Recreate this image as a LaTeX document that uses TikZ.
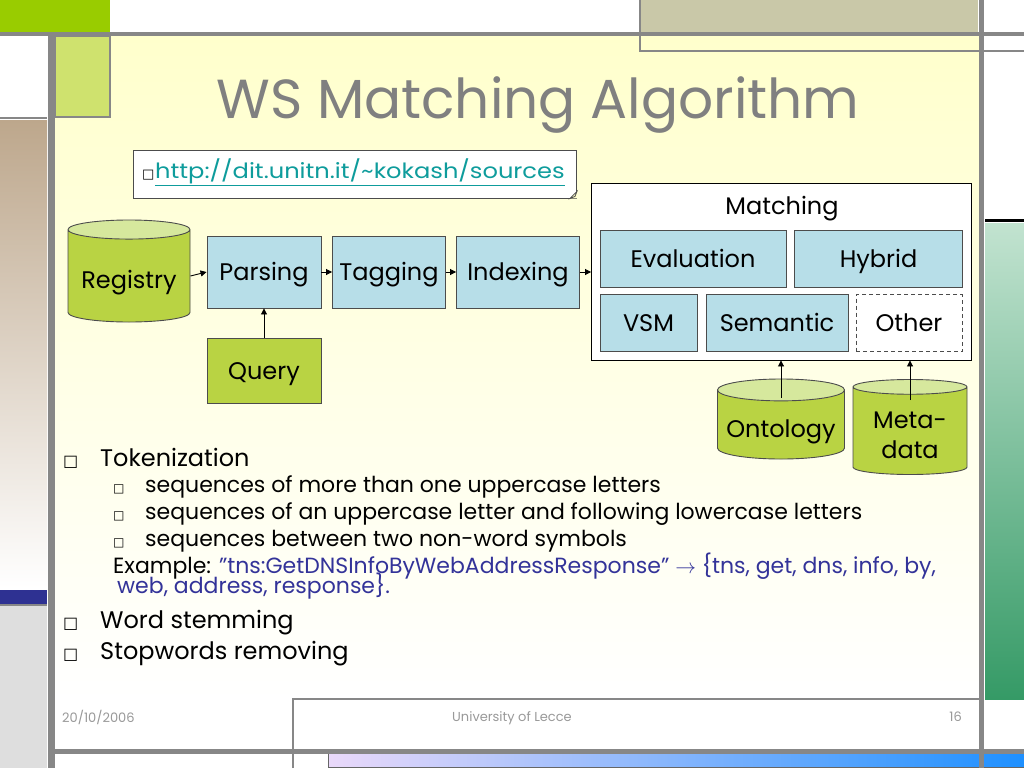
\documentclass[tikz,border=0pt]{standalone}
\usepackage{fontspec}
\setmainfont{Poppins}
\newfontfamily\symfont{DejaVu Sans}
\newfontfamily\widefont[FakeStretch=1.15]{Poppins}
\usetikzlibrary{shapes.geometric,arrows.meta,positioning}

\definecolor{framegray}{HTML}{878787}
\definecolor{leafgreen}{HTML}{99CC00}
\definecolor{palegreen}{HTML}{CFE26E}
\definecolor{khaki}{HTML}{C9C8A8}
\definecolor{sand}{HTML}{BDA78C}
\definecolor{inkblue}{HTML}{2E3192}
\definecolor{cream}{HTML}{FFFFCC}
\definecolor{stageblue}{HTML}{B7DEE8}
\definecolor{storegreen}{HTML}{B9D343}
\definecolor{storetop}{HTML}{D6E89D}
\definecolor{linkteal}{HTML}{0E9C9C}
\definecolor{exampleblue}{HTML}{333399}
\definecolor{titlegray}{HTML}{808080}
\definecolor{mint}{HTML}{C2E3D0}
\definecolor{seagreen}{HTML}{359A66}
\definecolor{lavender}{HTML}{EAD9FA}
\definecolor{skyblue}{HTML}{1E90FF}

\newcommand\fsz[1]{\fontsize{#1}{#1}\selectfont}

\tikzset{
  stage/.style={draw=black!70, fill=stageblue, line width=0.9pt, inner sep=0pt,
    minimum width=#1, minimum height=72pt, text height=17pt, text depth=0pt, font=\fsz{24pt}},
  store/.style={cylinder, shape border rotate=90, aspect=0.2, draw=black!70, line width=0.9pt,
    cylinder uses custom fill, cylinder body fill=storegreen, cylinder end fill=storetop,
    inner sep=0pt, align=center, anchor=shape center, text depth=0pt,
    font=\fontsize{24pt}{30pt}\selectfont},
  flow/.style={-{Triangle[length=6pt,width=6pt]}, line width=0.9pt},
  bullet/.style={anchor=base west, inner sep=0pt},
  frameline/.style={framegray, line width=#1},
}

\begin{document}
\begin{tikzpicture}[x=1pt, y=-1pt]
  \useasboundingbox (0,0) rectangle (1024,768);
  % slide background
  \fill[white] (0,0) rectangle (1024,768);
  \shade[top color=cream, bottom color=white] (55,36) rectangle (979,700);
  \shade[top color=sand, bottom color=white] (0,120) rectangle (47,588);
  \fill[inkblue] (0,590) rectangle (47,604);
  \fill[black!13] (0,606) rectangle (47,768);
  \fill[leafgreen] (0,0) rectangle (110,32);
  \filldraw[fill=palegreen, draw=framegray, line width=1.5pt] (55,36) rectangle (110,117);
  \fill[khaki] (640,0) rectangle (978,32);
  \fill[black] (985,219) rectangle (1024,222);
  \shade[top color=mint, bottom color=seagreen] (985,223) rectangle (1024,699);
  \shadedraw[left color=lavender, right color=skyblue, draw=black!60] (328,753) rectangle (1024,767);
  % frame lines
  \draw[frameline=4pt] (0,34) -- (1024,34);
  \draw[frameline=7pt] (51,34) -- (51,768);
  \draw[frameline=5pt] (981.5,0) -- (981.5,768);
  \draw[frameline=5pt] (51,751) -- (1024,751);
  \draw[frameline=1.5pt] (0,118) -- (47,118);
  \draw[frameline=1.5pt] (0,605) -- (47,605);
  \draw[frameline=1.5pt] (640,0) -- (640,51) -- (1024,51);
  \draw[frameline=1.5pt] (293,768) -- (293,699) -- (979,699);

  \node (title) at (538,118) [anchor=base, text=titlegray, font=\fsz{55pt}] {WS Matching Algorithm};

  % link box
  \node (url) at (355,174) [draw=black!70, fill=white, line width=0.9pt, minimum width=443pt, minimum height=48pt] {};
  \fill[cream] ([xshift=-7pt]url.south east) -- (url.south east) -- ([yshift=7pt]url.south east) -- cycle;
  \draw[line width=0.8pt, black!70] ([xshift=-7pt]url.south east) -- ([yshift=7pt]url.south east)
    -- ([xshift=-2pt,yshift=2pt]url.south east) -- cycle;
  \node (urlbox) at (142,178) [bullet, font=\symfont\fsz{13pt}] {□};
  \node (urltext) at (155,178) [bullet, text=linkteal, font=\widefont\fsz{21pt}] {\underline{http://dit.unitn.it/\textasciitilde kokash/sources}};

  % pipeline
  \node (reg) at (129,271) [store, minimum width=122pt, minimum height=102pt, text height=25pt] {Registry};
  \node (pars) at (264,272) [stage=114pt] {Parsing};
  \node (tagg) at (389,272) [stage=113pt] {Tagging};
  \node (indx) at (518,272) [stage=123pt] {Indexing};
  \node (query) at (264,371) [stage=114pt, fill=storegreen, minimum height=65pt] {Query};

  \node (match) at (781.5,271.5) [draw, fill=white, line width=0.9pt, minimum width=380pt, minimum height=177pt] {};
  \node (matchlbl) at (782,214) [anchor=base, font=\fsz{24pt}] {Matching};
  \node (eval) at (693,259) [stage=186pt, minimum height=57pt] {Evaluation};
  \node (hybr) at (878.5,259) [stage=168pt, minimum height=57pt] {Hybrid};
  \node (vsm) at (648.5,323) [stage=97pt, minimum height=57pt] {VSM};
  \node (sema) at (777,323) [stage=142pt, minimum height=57pt] {Semantic};
  \node (othr) at (909,323) [stage=106pt, minimum height=57pt, fill=white, dash pattern=on 4pt off 3pt] {Other};

  \node (onto) at (781,419) [store, minimum width=127pt, minimum height=80pt, text height=25pt] {Ontology};
  \node (meta) at (910,427) [store, minimum width=114pt, minimum height=95pt, text height=55pt] {Meta-\\data};

  \draw[flow] (reg.east) -- (pars.west);
  \draw[flow] (pars) -- (tagg);
  \draw[flow] (tagg) -- (indx);
  \draw[flow] (indx) -- (indx -| match.west);
  \draw[flow] (query) -- (pars);
  \draw[flow] ([yshift=-19pt]onto.north) -- (onto.north |- match.south);
  \draw[flow] ([yshift=-21pt]meta.north) -- (meta.north |- match.south);

  % bullet list
  \node (tokbox) at (63,466) [bullet, font=\symfont\fsz{16pt}] {□};
  \node (tok) at (100,466) [bullet, font=\fsz{24pt}] {Tokenization};
  \foreach \y/\txt [count=\i] in {492/{sequences of more than one uppercase letters},
      519/{sequences of an uppercase letter and following lowercase letters},
      546/{sequences between two non-word symbols}} {
    \node (subbox\i) at (113,\y) [bullet, font=\symfont\fsz{12pt}] {□};
    \node (sub\i) at (145,\y) [bullet, font=\fsz{22pt}] {\txt};
  }
  \node (ex1) at (113,573) [bullet, font=\fsz{22pt}] {Example: \textcolor{exampleblue}{”tns:GetDNSInfoByWebAddressResponse” $\rightarrow$ \{tns, get, dns, info, by,}};
  \node (ex2) at (117,593) [bullet, font=\fsz{22pt}] {\textcolor{exampleblue}{web, address, response\}.}};
  \node (stembox) at (63,628) [bullet, font=\symfont\fsz{16pt}] {□};
  \node (stem) at (100,628) [bullet, font=\fsz{24pt}] {Word stemming};
  \node (stopbox) at (63,659) [bullet, font=\symfont\fsz{16pt}] {□};
  \node (stop) at (100,659) [bullet, font=\fsz{24pt}] {Stopwords removing};

  % footer
  \node (date) at (62,722) [bullet, text=black!40, font=\fsz{13pt}] {20/10/2006};
  \node (univ) at (512,721) [anchor=base, text=black!40, font=\fsz{13pt}] {University of Lecce};
  \node (page) at (962,721) [anchor=base east, inner sep=0pt, text=black!40, font=\fsz{13pt}] {16};
\end{tikzpicture}
\end{document}
